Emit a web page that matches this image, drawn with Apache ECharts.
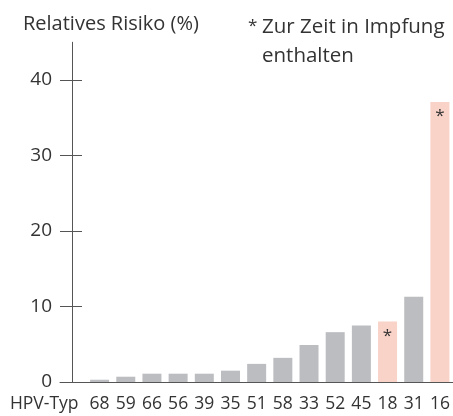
<!DOCTYPE html>
<html><head><meta charset="utf-8">
<script src="https://cdn.jsdelivr.net/npm/echarts@6/dist/echarts.min.js"></script>
<style>html,body{margin:0;padding:0;background:#fff}#c{width:453px;height:416px}</style>
</head><body><div id="c"></div>
<script>
const categories = ['68','59','66','56','39','35','51','58','33','52','45','18','31','16'];
const values = [0.3, 0.7, 1.1, 1.1, 1.1, 1.5, 2.4, 3.2, 4.9, 6.6, 7.5, 8.0, 11.3, 37.1];
const vaccineTypes = ['18','16'];
const yTicks = [0, 10, 20, 30, 40];
const yTitle = 'Relatives Risiko (%)';
const xTitle = 'HPV-Typ';
const noteMark = '*';
const noteText = 'Zur Zeit in Impfung\nenthalten';

const FONT = 'Open Sans';
const TXT = '#333';
const AX = '#555';
const GRAY = '#bcbdc0';
const PINK = '#f9d2c8';
const TOP = 42.25, BOTTOM = 34;

const chart = echarts.init(document.getElementById('c'), null, {renderer: 'canvas'});
chart.setOption({
  animation: false,
  textStyle: {fontFamily: FONT},
  title: [
    {text: yTitle, left: 18, top: 9, textStyle: {fontFamily: FONT, fontSize: 20, fontWeight: 'normal', color: TXT}},
    {text: noteMark, left: 243, top: 13, textStyle: {fontFamily: FONT, fontSize: 17, fontWeight: 'normal', color: TXT}},
    {text: noteText, left: 257, top: 8, textStyle: {fontFamily: FONT, fontSize: 20.5, fontWeight: 'normal', color: TXT, lineHeight: 29}}
  ],
  grid: [
    {left: 60, right: -4.5, top: TOP, bottom: BOTTOM},
    {left: 86.5, right: -4.5, top: TOP, bottom: BOTTOM}
  ],
  xAxis: [
    {gridIndex: 0, type: 'value', min: 0, max: 1,
     axisLine: {show: true, lineStyle: {color: AX, width: 1}},
     axisTick: {show: false}, axisLabel: {show: false}, splitLine: {show: false}},
    {gridIndex: 1, type: 'category', data: categories,
     axisLine: {show: false}, axisTick: {show: false},
     axisLabel: {color: TXT, fontSize: 17.5, fontFamily: FONT, margin: 13, interval: 0},
     name: xTitle, nameLocation: 'start', nameGap: 8,
     nameTextStyle: {color: TXT, fontSize: 17.5, fontFamily: FONT, verticalAlign: 'top', padding: [13, 0, 0, 0]}}
  ],
  yAxis: [
    {gridIndex: 0, type: 'value', position: 'left', min: 0, max: 45, interval: 10, offset: -12,
     axisLine: {show: true, lineStyle: {color: AX, width: 1}},
     axisTick: {show: true, length: 12, customValues: yTicks, lineStyle: {color: AX}},
     axisLabel: {color: TXT, fontSize: 19, fontFamily: FONT, margin: 20, customValues: yTicks, padding: [0, 0, 8, 0]},
     splitLine: {show: false}},
    {gridIndex: 0, type: 'value', position: 'left', min: 0, max: 45, interval: 10, offset: -12,
     axisLine: {show: false},
     axisTick: {show: true, inside: true, length: 10, customValues: yTicks, lineStyle: {color: AX}},
     axisLabel: {show: false}, splitLine: {show: false}},
    {gridIndex: 1, type: 'value', min: 0, max: 45, show: false}
  ],
  series: [{
    type: 'bar', xAxisIndex: 1, yAxisIndex: 2, barWidth: 19,
    data: values.map((v, i) => {
      const inV = vaccineTypes.includes(categories[i]);
      return {
        value: v,
        itemStyle: {color: inV ? PINK : GRAY},
        label: {show: inV, formatter: noteMark, position: 'insideTop', distance: 6,
                color: TXT, fontSize: 17, fontFamily: FONT}
      };
    })
  }]
});
</script></body></html>
